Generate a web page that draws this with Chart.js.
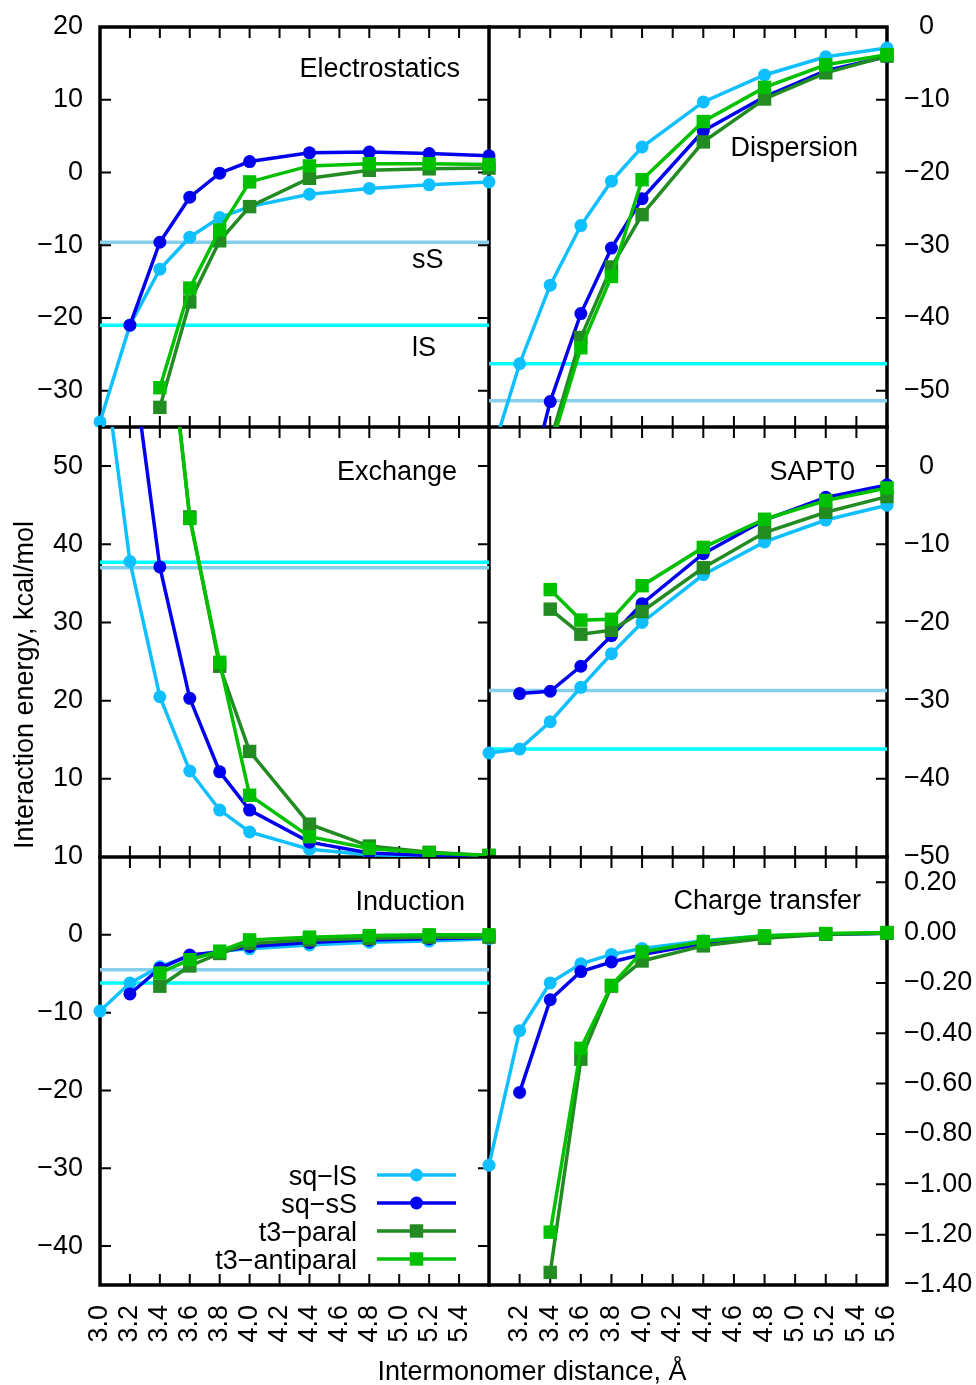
<!DOCTYPE html>
<html>
<head>
<meta charset="utf-8">
<title>SAPT0 energy components</title>
<script src="https://cdn.jsdelivr.net/npm/chart.js@4.4.1/dist/chart.umd.min.js"></script>
<style>
  html, body { margin: 0; padding: 0; background: #fff; }
  #wrap { position: relative; width: 976px; height: 1385px; overflow: hidden; }
  #wrap canvas { position: absolute; left: 0; top: 0; }
</style>
</head>
<body>
<div id="wrap">
  <canvas id="elst" width="976" height="1385"></canvas>
  <canvas id="disp" width="976" height="1385"></canvas>
  <canvas id="exch" width="976" height="1385"></canvas>
  <canvas id="sapt" width="976" height="1385"></canvas>
  <canvas id="ind" width="976" height="1385"></canvas>
  <canvas id="ct" width="976" height="1385"></canvas>
</div>
<script>
// intermonomer distances, A
const distances = [3.0, 3.2, 3.4, 3.6, 3.8, 4.0, 4.4, 4.8, 5.2, 5.6];
const seriesNames = ['sq\u2212lS', 'sq\u2212sS', 't3\u2212paral', 't3\u2212antiparal'];
const seriesColors = ['#10bfff', '#0000ee', '#228b22', '#00c000'];
// reference lines: [lS, sS]
const refColors = ['#00ffff', '#87ceeb'];

// Electrostatics
const elstLS = [-34.3, -21.0, -13.3, -8.9, -6.2, -4.7, -3.0, -2.2, -1.7, -1.3];
const elstSS = [null, -21.0, -9.6, -3.4, -0.1, 1.5, 2.7, 2.8, 2.6, 2.3];
const elstPar = [null, null, -32.3, -17.8, -9.4, -4.7, -0.8, 0.3, 0.5, 0.6];
const elstAnti = [null, null, -29.6, -15.9, -7.9, -1.3, 0.9, 1.2, 1.2, 1.1];
const elstRefs = [-21.0, -9.6];

// Dispersion
const dispLS = [-60, -46.3, -35.5, -27.3, -21.2, -16.5, -10.3, -6.6, -4.1, -2.9];
const dispSS = [null, -68, -51.5, -39.4, -30.4, -23.6, -14.3, -9.6, -6.0, -4.1];
const dispPar = [null, null, -57, -42.7, -33.0, -25.8, -15.8, -9.9, -6.3, -4.0];
const dispAnti = [null, null, -58, -44.1, -34.3, -21.0, -13.0, -8.3, -5.2, -3.8];
const dispRefs = [-46.3, -51.4];

// Exchange
const exchLS = [67, 37.8, 20.5, 11.0, 6.0, 3.2, 1.0, 0.3, 0.1, 0.05];
const exchSS = [null, 66, 37.1, 20.3, 10.9, 6.0, 1.9, 0.5, 0.2, 0.1];
const exchPar = [null, null, 78, 43.5, 24.4, 13.5, 4.2, 1.4, 0.6, 0.2];
const exchAnti = [null, null, 78, 43.3, 24.9, 7.9, 2.6, 1.1, 0.5, 0.2];
const exchRefs = [37.7, 37.0];

// SAPT0 total
const saptLS = [-36.7, -36.2, -32.7, -28.3, -24.0, -20.0, -13.9, -9.7, -6.9, -5.0];
const saptSS = [null, -29.1, -28.8, -25.6, -21.7, -17.6, -11.2, -6.9, -4.0, -2.4];
const saptPar = [null, null, -18.3, -21.5, -21.0, -18.6, -13.0, -8.5, -5.9, -3.9];
const saptAnti = [null, null, -15.8, -19.7, -19.6, -15.3, -10.4, -6.8, -4.4, -2.8];
const saptRefs = [-36.2, -28.7];

// Induction
const indLS = [-9.8, -6.2, -4.1, -2.7, -2.1, -1.8, -1.3, -0.95, -0.8, -0.5];
const indSS = [null, -7.6, -4.3, -2.6, -2.2, -1.5, -1.0, -0.65, -0.5, -0.35];
const indPar = [null, null, -6.6, -4.0, -2.4, -1.1, -0.65, -0.45, -0.3, -0.3];
const indAnti = [null, null, -4.9, -3.2, -2.1, -0.65, -0.3, -0.1, 0, 0];
const indRefs = [-6.2, -4.5];

// Charge transfer
const ctLS = [-0.924, -0.39, -0.20, -0.124, -0.087, -0.063, -0.033, -0.013, -0.007, -0.003];
const ctSS = [null, -0.635, -0.267, -0.155, -0.117, -0.087, -0.044, -0.017, -0.007, -0.003];
const ctPar = [null, null, -1.35, -0.503, -0.213, -0.113, -0.053, -0.023, -0.007, -0.003];
const ctAnti = [null, null, -1.19, -0.46, -0.21, -0.077, -0.036, -0.013, -0.004, 0];
const ctRefs = [];

// tick labels
const xMarks = [3.0, 3.2, 3.4, 3.6, 3.8, 4.0, 4.2, 4.4, 4.6, 4.8, 5.0, 5.2, 5.4, 5.6];
const xTicksLeft = [3.0, 3.2, 3.4, 3.6, 3.8, 4.0, 4.2, 4.4, 4.6, 4.8, 5.0, 5.2, 5.4];
const xTicksRight = [3.2, 3.4, 3.6, 3.8, 4.0, 4.2, 4.4, 4.6, 4.8, 5.0, 5.2, 5.4, 5.6];
const elstTicks = [20, 10, 0, -10, -20, -30];
const dispTicks = [0, -10, -20, -30, -40, -50];
const exchTicks = [50, 40, 30, 20, 10];
const saptTicks = [0, -10, -20, -30, -40, -50];
const indTicks = [10, 0, -10, -20, -30, -40];
const ctTicks = [0.2, 0, -0.2, -0.4, -0.6, -0.8, -1.0, -1.2, -1.4];

const FONT = '"Liberation Sans", Arial, Helvetica, sans-serif';
const FS = 27;
Chart.defaults.font.family = FONT;
Chart.defaults.font.size = FS;
Chart.defaults.color = '#000';

const W = 976, H = 1385;
const LW = 3.5;

function fmtInt(v) { return v < 0 ? '\u2212' + (-v) : String(v); }
function fmtIntR(v) { return v === 0 ? '  0' : fmtInt(v); }
function fmt2(v) { return (v < 0 ? '\u2212' : '') + Math.abs(v).toFixed(2); }

function seriesSets(values) {
  return values.map((vals, i) => ({
    label: seriesNames[i],
    data: distances.map((d, j) => ({ x: d, y: vals[j] })),
    borderColor: seriesColors[i],
    backgroundColor: seriesColors[i],
    pointBackgroundColor: seriesColors[i],
    pointStyle: i < 2 ? 'circle' : 'rect',
    pointRadius: i < 2 ? 6.5 : 9.5,
    pointBorderWidth: 0,
    borderWidth: LW,
    order: 3 - i,
    clip: { left: 8, right: 8, top: 0, bottom: 0 },
    tension: 0
  }));
}

function refSets(refs) {
  return refs.map((v, i) => ({
    label: 'ref' + i,
    data: [{ x: distances[0], y: v }, { x: distances[distances.length - 1], y: v }],
    borderColor: refColors[i],
    borderWidth: 3.5,
    pointRadius: 0,
    order: 10 + i,
    clip: 0
  }));
}

function framePlugin(p) {
  return {
    id: 'frame',
    beforeDatasetsDraw(chart) {
      const { ctx, chartArea: a } = chart;
      const xs = chart.scales.x, ys = chart.scales.y;
      ctx.save();
      ctx.strokeStyle = '#000';
      ctx.lineWidth = 2;
      ctx.beginPath();
      xMarks.forEach(v => {
        const px = xs.getPixelForValue(v);
        ctx.moveTo(px, a.top); ctx.lineTo(px, a.top + 11);
        ctx.moveTo(px, a.bottom); ctx.lineTo(px, a.bottom - 11);
      });
      p.yTicks.forEach(v => {
        const py = ys.getPixelForValue(v);
        if (p.side === 'left') { ctx.moveTo(a.left, py); ctx.lineTo(a.left + 11, py); }
        ctx.moveTo(a.right, py); ctx.lineTo(a.right - 11, py);
      });
      ctx.stroke();
      ctx.lineWidth = 3.5;
      ctx.lineCap = 'square';
      ctx.beginPath();
      ctx.moveTo(a.left, a.bottom); ctx.lineTo(a.right, a.bottom); ctx.lineTo(a.right, a.top);
      if (p.row === 0) { ctx.moveTo(a.left, a.top); ctx.lineTo(a.right, a.top); }
      if (p.side === 'left') { ctx.moveTo(a.left, a.top); ctx.lineTo(a.left, a.bottom); }
      ctx.stroke();
      ctx.restore();
    }
  };
}

function notesPlugin(p) {
  return {
    id: 'notes',
    afterDatasetsDraw(chart) {
      const ctx = chart.ctx;
      ctx.save();
      ctx.fillStyle = '#000';
      ctx.font = FS + 'px ' + FONT;
      ctx.textBaseline = 'alphabetic';
      (p.notes || []).forEach(n => {
        ctx.save();
        ctx.translate(n.x, n.y);
        if (n.rot) ctx.rotate(n.rot);
        ctx.textAlign = n.align || 'right';
        ctx.fillText(n.text, 0, 0);
        ctx.restore();
      });
      if (p.legend) {
        const L = p.legend;
        chart.data.datasets.filter(d => seriesNames.includes(d.label))
          .sort((a, b) => seriesNames.indexOf(a.label) - seriesNames.indexOf(b.label))
          .forEach((d, i) => {
            const yy = L.y + i * L.dy;
            ctx.fillStyle = '#000';
            ctx.textAlign = 'right';
            ctx.fillText(d.label, L.textX, yy + 10);
            ctx.strokeStyle = d.borderColor;
            ctx.lineWidth = LW;
            ctx.beginPath(); ctx.moveTo(L.x0, yy); ctx.lineTo(L.x1, yy); ctx.stroke();
            ctx.fillStyle = d.borderColor;
            const mx = (L.x0 + L.x1) / 2;
            if (d.pointStyle === 'circle') {
              ctx.beginPath(); ctx.arc(mx, yy, d.pointRadius, 0, Math.PI * 2); ctx.fill();
            } else {
              const s = d.pointRadius * Math.SQRT1_2;
              ctx.fillRect(mx - s, yy - s, 2 * s, 2 * s);
            }
          });
      }
      ctx.restore();
    }
  };
}

function makePanel(p) {
  const bottomRow = p.row === 2;
  const xh = bottomRow ? 70 : 0;
  const pad = {
    top: p.area.t,
    bottom: H - p.area.b - xh,
    left: p.side === 'left' ? 0 : p.area.l,
    right: p.side === 'left' ? W - p.area.r : 0
  };
  const datasets = refSets(p.refs).concat(seriesSets(p.values));
  new Chart(document.getElementById(p.id), {
    type: 'line',
    data: { datasets },
    options: {
      responsive: false,
      maintainAspectRatio: false,
      animation: false,
      devicePixelRatio: 1,
      events: [],
      layout: { autoPadding: false, padding: pad },
      plugins: { legend: { display: false }, tooltip: { enabled: false }, title: { display: false } },
      scales: {
        x: {
          type: 'linear', min: 3.0, max: 5.6,
          afterBuildTicks: s => { s.ticks = p.xTicks.map(v => ({ value: v })); },
          afterFit: s => { s.height = xh; s.paddingLeft = 0; s.paddingRight = 0; },
          grid: { display: false, drawTicks: false },
          border: { display: false },
          ticks: {
            display: bottomRow, autoSkip: false, minRotation: 90, maxRotation: 90, padding: 20,
            color: '#000', font: { family: FONT, size: FS },
            callback: v => v.toFixed(1)
          }
        },
        y: {
          type: 'linear', position: p.side, min: p.min, max: p.max,
          afterBuildTicks: s => { s.ticks = p.yTicks.map(v => ({ value: v })); },
          afterFit: s => {
            s.width = p.side === 'left' ? p.area.l : W - p.area.r;
            s.paddingTop = 0; s.paddingBottom = 0;
          },
          grid: { display: false, drawTicks: false },
          border: { display: false },
          ticks: {
            autoSkip: false, padding: 17, color: '#000', font: { family: FONT, size: FS },
            callback: p.fmt
          }
        }
      }
    },
    plugins: [framePlugin(p), notesPlugin(p)]
  });
}

const L = 100, M = 489, R = 887;

makePanel({
  id: 'elst', row: 0, side: 'left', area: { l: L, r: M, t: 27, b: 427 },
  min: -35, max: 20, yTicks: elstTicks, xTicks: xTicksLeft, fmt: fmtInt,
  values: [elstLS, elstSS, elstPar, elstAnti], refs: elstRefs,
  notes: [
    { text: 'Electrostatics', x: 460, y: 77 },
    { text: 'sS', x: 412, y: 268, align: 'left' },
    { text: 'lS', x: 412, y: 356, align: 'left' }
  ]
});
makePanel({
  id: 'disp', row: 0, side: 'right', area: { l: M, r: R, t: 27, b: 427 },
  min: -55, max: 0, yTicks: dispTicks, xTicks: xTicksRight, fmt: fmtIntR,
  values: [dispLS, dispSS, dispPar, dispAnti], refs: dispRefs,
  notes: [{ text: 'Dispersion', x: 858, y: 156 }]
});
makePanel({
  id: 'exch', row: 1, side: 'left', area: { l: L, r: M, t: 427, b: 857 },
  min: 0, max: 55, yTicks: exchTicks, xTicks: xTicksLeft, fmt: fmtInt,
  values: [exchLS, exchSS, exchPar, exchAnti], refs: exchRefs,
  notes: [{ text: 'Exchange', x: 457, y: 480 }]
});
makePanel({
  id: 'sapt', row: 1, side: 'right', area: { l: M, r: R, t: 427, b: 857 },
  min: -50, max: 5, yTicks: saptTicks, xTicks: xTicksRight, fmt: fmtIntR,
  values: [saptLS, saptSS, saptPar, saptAnti], refs: saptRefs,
  notes: [{ text: 'SAPT0', x: 855, y: 480 }]
});
makePanel({
  id: 'ind', row: 2, side: 'left', area: { l: L, r: M, t: 857, b: 1285 },
  min: -45, max: 10, yTicks: indTicks, xTicks: xTicksLeft, fmt: fmtInt,
  values: [indLS, indSS, indPar, indAnti], refs: indRefs,
  notes: [{ text: 'Induction', x: 465, y: 910 }],
  legend: { textX: 357, x0: 377, x1: 456, y: 1175, dy: 28 }
});
makePanel({
  id: 'ct', row: 2, side: 'right', area: { l: M, r: R, t: 857, b: 1285 },
  min: -1.4, max: 0.3, yTicks: ctTicks, xTicks: xTicksRight, fmt: fmt2,
  values: [ctLS, ctSS, ctPar, ctAnti], refs: ctRefs,
  notes: [
    { text: 'Charge transfer', x: 861, y: 909 },
    { text: 'Interaction energy, kcal/mol', x: 33, y: 685, rot: -Math.PI / 2, align: 'center' },
    { text: 'Intermonomer distance, \u00c5', x: 532, y: 1380, align: 'center' }
  ]
});
</script>
</body>
</html>
